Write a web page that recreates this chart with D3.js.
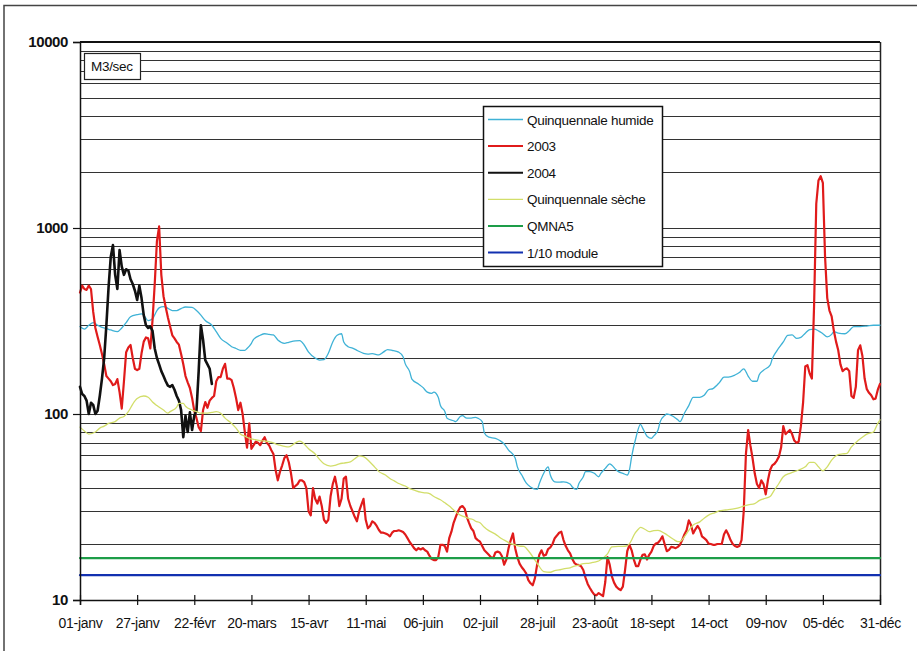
<!DOCTYPE html>
<html>
<head>
<meta charset="utf-8">
<script src="https://cdn.jsdelivr.net/npm/d3@7/dist/d3.min.js"></script>
<style>
  html, body { margin: 0; padding: 0; background: #fff; }
  svg { display: block; }
  text { font-family: "Liberation Sans", Arial, sans-serif; fill: #111; }
</style>
</head>
<body>
<script>
// Day-of-year axis labels (every 26 days, day 0 = 1 January)
const dayLabels = ["01-janv", "27-janv", "22-févr", "20-mars", "15-avr", "11-mai", "06-juin",
  "02-juil", "28-juil", "23-août", "18-sept", "14-oct", "09-nov", "05-déc", "31-déc"];
const labelStep = 26;

// Y-axis labelled values (m3/s, log scale)
const yLabels = [10, 100, 1000, 10000];

// Quinquennale humide: [day, m3/s]
const humide = [[0,295],[2,286],[4,300],[6,310],[8,300],[10,292],[12,288],[14,283],[17,277],[19,290],
  [21,310],[23,333],[26,342],[28,345],[29,340],[31,318],[33,325],[35,360],[36,372],[38,378],[40,370],
  [42,360],[44,360],[46,369],[48,376],[51,374],[53,360],[55,340],[57,318],[60,300],[62,277],[64,255],
  [67,240],[69,230],[71,225],[73,220],[75,220],[76,225],[78,240],[79,252],[82,265],[84,270],[86,268],
  [88,266],[90,250],[93,240],[95,243],[98,247],[100,248],[102,235],[104,215],[107,200],[109,195],
  [111,196],[113,212],[115,244],[117,265],[119,270],[120,244],[122,230],[124,226],[126,220],[129,212],
  [131,210],[133,211],[136,208],[138,215],[140,222],[142,220],[145,215],[147,203],[148,186],[150,169],
  [151,154],[154,145],[156,139],[158,131],[160,129],[161,131],[163,123],[164,111],[166,103],[167,95],
  [170,92],[171,91],[173,97],[174,98],[176,95],[178,95],[180,96],[181,95],[183,91],[184,79],[186,75],
  [189,74],[191,72],[193,69],[195,64],[198,58],[199,52],[201,47],[203,42.6],[205,40.5],[208,39.3],
  [209,42.3],[211,48],[213,52],[214,47],[216,43.2],[218,43],[220,43.2],[223,42],[224,40.5],[226,39.3],
  [227,42.3],[229,46],[230,49],[232,49],[234,48],[236,46],[237,48],[239,51],[241,54],[242,53],[244,50],
  [245,49],[247,48],[249,47],[250,50],[251,59],[253,75],[255,88],[256,84],[258,76],[260,74],[261,76],
  [263,82],[264,91],[266,98],[267,100],[270,97],[272,93],[273,91],[275,101],[277,111],[279,123],
  [282,123],[284,126],[286,135],[288,137],[291,148],[293,158],[295,158],[298,162],[300,167],[302,175],
  [304,160],[306,150],[308,150],[309,162],[311,172],[314,183],[315,198],[317,218],[320,244],[322,265],
  [324,266],[326,255],[328,258],[330,272],[332,284],[334,286],[336,280],[338,270],[340,260],[342,268],
  [343,277],[345,272],[348,270],[350,280],[352,295],[355,295],[358,297],[361,300],[364,300]];

// 2003 daily flow: [day, m3/s]
const y2003 = [[0,450],[1,490],[2,470],[3,465],[4,490],[5,470],[6,355],[7,290],[8,260],[9,235],
  [10,210],[11,185],[12,160],[13,155],[14,150],[15,143],[16,145],[17,154],[18,131],[19,107],[20,150],
  [21,215],[22,228],[23,235],[24,200],[25,175],[26,172],[27,175],[28,212],[29,245],[30,258],[31,255],
  [32,225],[33,320],[34,500],[35,850],[36,1020],[37,560],[38,430],[39,375],[40,330],[41,295],[42,265],
  [43,255],[44,244],[45,236],[46,210],[47,185],[48,160],[49,148],[50,138],[51,122],[52,104],[53,95],
  [54,85],[55,81],[56,105],[57,116],[58,108],[59,118],[60,122],[61,125],[62,150],[63,158],[64,158],
  [65,175],[66,186],[67,155],[68,155],[69,152],[70,138],[71,122],[72,105],[73,115],[74,100],[75,80],
  [76,66],[77,89],[78,65],[79,68],[80,71],[81,70],[82,68],[83,72],[84,75],[85,70],[86,68],[87,64],
  [88,61],[89,50],[90,44],[91,49],[92,53],[93,58],[94,60],[95,55],[96,48],[97,40],[98,41],[99,42],
  [100,44],[101,44],[102,43],[103,40],[104,30],[105,28.5],[106,40],[107,35],[108,33],[109,36],[110,32],
  [111,27],[112,26],[113,27],[114,36],[115,42],[116,46],[117,40],[118,32],[119,35],[120,45],[121,46],
  [122,35],[123,32],[124,30],[125,28],[126,26.5],[127,30],[128,32.5],[129,35],[130,27],[131,24.3],
  [132,25],[133,26.5],[134,26],[135,25],[136,23.8],[137,23],[138,23],[139,22.8],[140,22.5],[141,22],
  [142,23],[143,23.5],[144,23.5],[145,23.7],[146,23.5],[147,23.2],[148,22.5],[149,21.5],[150,20.5],
  [151,19.8],[152,19],[153,18.5],[154,19],[155,18.7],[156,19],[157,18.5],[158,18.2],[159,17.3],
  [160,16.6],[161,16.4],[162,16.4],[163,17],[164,19.8],[165,19.8],[166,19.5],[167,18.2],[168,21.5],
  [169,23.3],[170,26],[171,28],[172,30],[173,31.5],[174,32],[175,31],[176,28],[177,26],[178,24.3],
  [179,23.5],[180,21.5],[181,21],[182,20.6],[183,19.5],[184,18.5],[185,18],[186,17.5],[187,17],
  [188,16.8],[189,18],[190,18.2],[191,18],[192,17.2],[193,15.5],[194,16.5],[195,19],[196,21],[197,22.8],
  [198,19],[199,17],[200,15.7],[201,15],[202,14.5],[203,13.9],[204,12.8],[205,12.3],[206,12],[207,13.1],
  [208,15.5],[209,17.5],[210,18.5],[211,17.3],[212,17.5],[213,18.8],[214,19.2],[215,20],[216,21.5],
  [217,22.2],[218,23],[219,23.3],[220,21],[221,19.5],[222,18.5],[223,17.8],[224,16.6],[225,15.8],
  [226,15.5],[227,15.4],[228,15.2],[229,14.5],[230,13.2],[231,12.2],[232,11.6],[233,11.1],[234,10.7],
  [235,10.6],[236,10.9],[237,10.7],[238,10.5],[239,12.5],[240,17],[241,15.5],[242,13.4],[243,12.4],
  [244,11.8],[245,11.5],[246,11.3],[247,11.8],[248,14.5],[249,18.3],[250,19.8],[251,18.5],[252,16.5],
  [253,15.2],[254,15.2],[255,16.5],[256,17.5],[257,17.6],[258,16.5],[259,17.5],[260,18.2],[261,19.5],
  [262,20.1],[263,20.3],[264,21],[265,22],[266,20],[267,18.3],[268,18.6],[269,19.3],[270,19.2],
  [271,19],[272,19.3],[273,19.8],[274,21],[275,22.5],[276,23.7],[277,26.8],[278,25.3],[279,22.8],
  [280,24],[281,25],[282,24],[283,22],[284,21.5],[285,21],[286,20.1],[287,20],[288,19.8],[289,19.8],
  [290,20],[291,20],[292,20],[293,22.5],[294,23.7],[295,22.5],[296,21],[297,20],[298,19.5],[299,19.3],
  [300,19.5],[301,21],[302,30],[303,61],[304,82],[305,68],[306,58],[307,48],[308,42],[309,40],[310,44],
  [311,42],[312,37],[313,44],[314,50],[315,53],[316,54],[317,56],[318,59],[319,66],[320,86],[321,78],
  [322,80],[323,82],[324,78],[325,72],[326,70],[327,71],[328,86],[329,115],[330,180],[331,183],
  [332,165],[333,155],[334,380],[335,1350],[336,1800],[337,1900],[338,1750],[339,700],[340,420],
  [341,360],[342,335],[343,280],[344,245],[345,220],[346,185],[347,170],[348,174],[349,176],[350,170],
  [351,125],[352,122],[353,140],[354,220],[355,234],[356,205],[357,155],[358,136],[359,130],[360,126],
  [361,120],[362,121],[363,135],[364,145]];

// 2004 daily flow (January – February): [day, m3/s]
const y2004 = [[0,140],[1,128],[2,125],[3,118],[4,100],[5,115],[6,112],[7,100],[8,104],[9,125],
  [10,155],[11,200],[12,300],[13,480],[14,700],[15,810],[16,560],[17,470],[18,760],[19,620],[20,560],
  [21,600],[22,590],[23,530],[24,500],[25,460],[26,410],[27,490],[28,420],[29,340],[30,300],[31,290],
  [32,295],[33,280],[34,225],[35,200],[36,185],[37,170],[38,160],[39,150],[40,142],[41,140],[42,143],
  [43,135],[44,125],[45,118],[46,105],[47,75],[48,98],[49,80],[50,102],[51,82],[52,98],[53,104],
  [54,170],[55,300],[56,250],[57,195],[58,185],[59,175],[60,145]];

// Quinquennale sèche: [day, m3/s]
const seche = [[0,85],[2,81],[4,78],[7,80],[9,84],[11,86],[13,89],[16,91],[18,95],[20,97],[22,103],
  [24,113],[26,121],[29,125],[31,123],[33,116],[35,111],[38,105],[40,101],[41,103],[44,109],[45,114],
  [47,114],[48,110],[51,105],[53,103],[55,101],[57,101],[60,102],[62,103],[64,101],[66,95],[69,89],
  [71,84],[73,78],[75,76],[77,74],[79,73],[82,72],[84,71.5],[86,71],[88,70],[89,69],[91,68],[93,67],
  [95,66.5],[98,70],[100,71.5],[102,69],[104,65],[107,61],[109,57],[111,54],[114,52.5],[116,53],
  [118,54],[120,54.5],[123,55.3],[125,57.5],[127,59.5],[129,59],[132,55],[134,52],[136,49],[139,47],
  [141,45],[143,43.7],[145,42.3],[148,41],[150,39.7],[152,39],[155,38],[157,37.7],[159,37.3],[161,36],
  [164,34.6],[166,33.3],[168,32],[170,30.5],[173,28.6],[175,28],[177,27.4],[179,27],[180,26.5],[182,26],
  [184,24.6],[186,23.6],[189,22.6],[191,21.7],[193,21],[196,20.1],[198,19.8],[200,19.5],[202,19.4],
  [204,18.4],[207,16.4],[209,15.1],[211,14.2],[214,14.1],[216,14.4],[218,14.5],[220,14.7],[223,14.9],
  [225,15.2],[227,15.4],[229,15.7],[232,15.8],[234,16],[236,16.2],[238,16.8],[240,17.7],[242,19.3],
  [245,19.4],[247,19.4],[249,19.6],[251,21],[252,22.3],[254,24],[255,24.6],[257,24],[259,23.3],
  [261,23.6],[263,23.7],[266,22.8],[268,22],[270,21.2],[272,20.6],[273,20.6],[275,21.9],[277,23.7],
  [279,25.3],[282,26.3],[284,27.5],[286,28.6],[289,29.5],[291,30.2],[293,30.4],[295,30.6],[298,31],
  [300,31.4],[302,32],[304,32.5],[307,33],[309,34.2],[311,35],[314,36],[316,39.1],[318,42.3],[320,46],
  [323,48],[325,49],[327,50],[330,52],[332,55],[334,55],[336,52],[338,49.5],[340,52],[342,56.5],
  [345,60.5],[347,61],[349,61.5],[351,66.5],[354,72],[356,75],[358,78],[361,80],[363,89],[364,93]];

// Reference flows (m3/s)
const qmna5 = 16.8;
const module10 = 13.6;

// Series names and colours, in drawing / legend order
const seriesNames = ["Quinquennale humide", "2003", "2004", "Quinquennale sèche", "QMNA5", "1/10 module"];
const seriesColors = ["#3fb2d6", "#e01b1b", "#111111", "#d2de6a", "#1d9d48", "#1230b0"];
const seriesWidths = [1.3, 2.2, 2.6, 1.3, 2.2, 2.2];

const W = 917, H = 651;
const svg = d3.select("body").append("svg").attr("width", W).attr("height", H);
svg.append("rect").attr("width", W).attr("height", H).attr("fill", "#fff");

// Outer frame of the figure
svg.append("rect").attr("x", 4).attr("y", 5.5).attr("width", W + 20).attr("height", H + 20)
  .attr("fill", "none").attr("stroke", "#444").attr("stroke-width", 1.5);

const pLeft = 80, pRight = 880, pTop = 42, pBottom = 600;
const x = d3.scaleLinear().domain([0, labelStep * (dayLabels.length - 1)]).range([pLeft, pRight]);
const y = d3.scaleLog().domain([10, 10000]).range([pBottom, pTop]);

// Horizontal gridlines at every 1–9 × 10^n
const grid = svg.append("g");
grid.selectAll("line").data(y.ticks()).join("line")
  .attr("x1", pLeft).attr("x2", pRight)
  .attr("y1", d => Math.round(y(d)) + 0.5).attr("y2", d => Math.round(y(d)) + 0.5)
  .attr("stroke", "#333").attr("stroke-width", 1);

// Plot border (top and right)
svg.append("line").attr("x1", pLeft).attr("x2", pRight).attr("y1", pTop).attr("y2", pTop)
  .attr("stroke", "#111").attr("stroke-width", 2);
svg.append("line").attr("x1", pRight + 0.5).attr("x2", pRight + 0.5).attr("y1", pTop).attr("y2", pBottom)
  .attr("stroke", "#222").attr("stroke-width", 1.5);

// Series lines
const lineLin = d3.line().x(d => x(d[0])).y(d => y(d[1]));
const lineSmooth = d3.line().x(d => x(d[0])).y(d => y(d[1])).curve(d3.curveMonotoneX);
const flat = v => [[0, v], [labelStep * (dayLabels.length - 1), v]];

const plotted = [
  { data: humide, gen: lineSmooth },
  { data: y2003, gen: lineLin },
  { data: y2004, gen: lineLin },
  { data: seche, gen: lineSmooth },
  { data: flat(qmna5), gen: lineLin },
  { data: flat(module10), gen: lineLin }
];
plotted.forEach((s, i) => {
  svg.append("path").attr("d", s.gen(s.data)).attr("fill", "none")
    .attr("stroke", seriesColors[i]).attr("stroke-width", seriesWidths[i])
    .attr("stroke-linejoin", "round").attr("stroke-linecap", "round");
});

// Y axis
const yAxis = d3.axisLeft(y).tickValues(yLabels).tickFormat(d3.format("d")).tickSize(7).tickPadding(5);
const gy = svg.append("g").attr("transform", `translate(${pLeft},0)`).call(yAxis);
gy.select(".domain").attr("stroke", "#111").attr("stroke-width", 1.5);
gy.selectAll(".tick line").attr("stroke", "#111").attr("stroke-width", 1.2);
gy.selectAll(".tick text").attr("font-size", 15).attr("font-weight", "bold")
  .attr("font-family", "'Liberation Sans', Arial, sans-serif").attr("fill", "#111")
  .attr("letter-spacing", "-0.4px");

// X axis with ticks crossing the axis line
const xAxis = d3.axisBottom(x).tickValues(d3.range(dayLabels.length).map(i => i * labelStep))
  .tickFormat((d, i) => dayLabels[i]).tickSize(5).tickPadding(13);
const gx = svg.append("g").attr("transform", `translate(0,${pBottom})`).call(xAxis);
gx.select(".domain").attr("stroke", "#111").attr("stroke-width", 1.5);
gx.selectAll(".tick line").attr("y1", -5).attr("stroke", "#111").attr("stroke-width", 1.2);
gx.selectAll(".tick text").attr("font-size", 14)
  .attr("font-family", "'Liberation Sans', Arial, sans-serif").attr("fill", "#111")
  .attr("letter-spacing", "-0.3px");

// Unit box
const unit = svg.append("g");
unit.append("rect").attr("x", 84.5).attr("y", 53.5).attr("width", 56).attr("height", 26)
  .attr("fill", "#fff").attr("stroke", "#222").attr("stroke-width", 1.2);
unit.append("text").attr("x", 91).attr("y", 71).attr("font-size", 13.5)
  .attr("letter-spacing", "-0.3px").text("M3/sec");

// Legend
const lg = svg.append("g").attr("transform", "translate(483,106)");
lg.append("rect").attr("x", 0.5).attr("y", 0.5).attr("width", 179).attr("height", 160)
  .attr("fill", "#fff").attr("stroke", "#111").attr("stroke-width", 1.5);
seriesNames.forEach((name, i) => {
  const cy = 13.5 + i * 26.6;
  lg.append("line").attr("x1", 5).attr("x2", 40).attr("y1", cy).attr("y2", cy)
    .attr("stroke", seriesColors[i]).attr("stroke-width", Math.min(seriesWidths[i], 2));
  lg.append("text").attr("x", 44).attr("y", cy + 5).attr("font-size", 13.5)
    .attr("letter-spacing", "-0.3px").text(name);
});
</script>
</body>
</html>
